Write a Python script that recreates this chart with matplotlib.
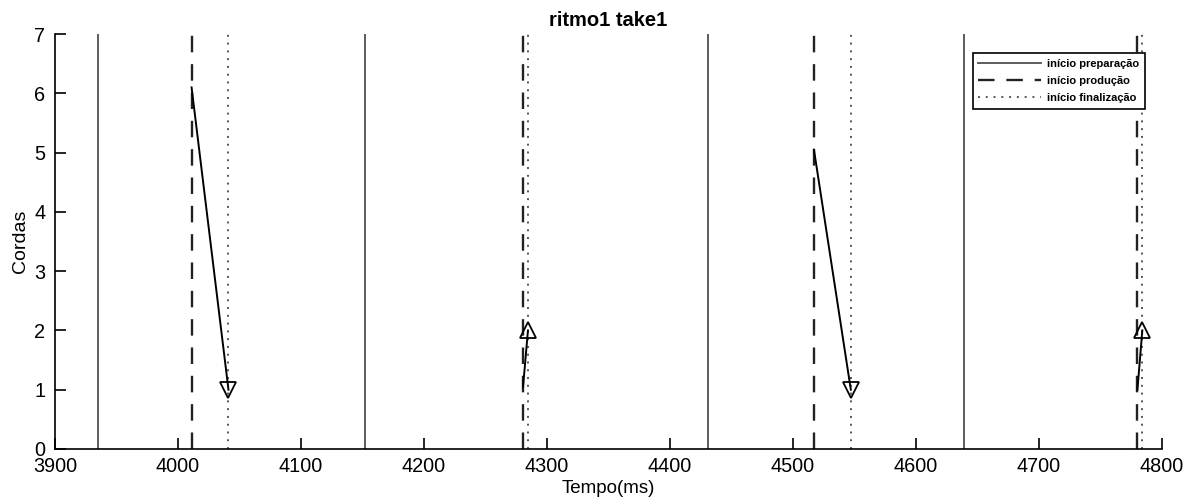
import matplotlib
matplotlib.use("Agg")
import matplotlib.pyplot as plt

plt.rcParams["font.family"] = ["Liberation Sans", "DejaVu Sans"]

# data
prep_start = [3935.0, 4152.0, 4431.0, 4639.0]
prod_start = [4011.0, 4280.5, 4517.0, 4780.0]
final_start = [4041.0, 4284.5, 4547.0, 4784.0]
chord_from = [6.1, 1.05, 5.05, 1.0]
chord_to = [1.0, 2.0, 1.0, 2.0]
xticks = [3900, 4000, 4100, 4200, 4300, 4400, 4500, 4600, 4700, 4800]
yticks = [0, 1, 2, 3, 4, 5, 6, 7]

fig = plt.figure(figsize=(11.89, 4.98), dpi=100)
ax = fig.add_axes([0.0463, 0.0984, 0.9310, 0.8333])
ax.set_xlim(3900, 4800)
ax.set_ylim(0, 7)

for i, x in enumerate(prep_start):
    ax.plot([x, x], [0, 7], color="#505050", lw=1.3, ls="-",
            label="início preparação" if i == 0 else None)
for i, x in enumerate(prod_start):
    ax.plot([x, x], [0, 7], color="#222222", lw=1.7, ls=(0, (7, 5)),
            label="início produção" if i == 0 else None)
for i, x in enumerate(final_start):
    ax.plot([x, x], [0, 7], color="#555555", lw=1.4, ls=(0, (1, 3)),
            label="início finalização" if i == 0 else None)

for x0, x1, y0, y1 in zip(prod_start, final_start, chord_from, chord_to):
    ax.plot([x0, x1], [y0, y1], color="black", lw=1.4)
    m = "v" if y1 < y0 else "^"
    ax.plot([x1], [y1], marker=m, ms=12, mfc="none", mec="black", mew=1.3, ls="none")

ax.set_xticks(xticks)
ax.set_yticks(yticks)
ax.tick_params(direction="in", labelsize=14.3, length=8, width=1.2)
ax.tick_params(axis="y", pad=7)
ax.tick_params(axis="x", pad=6)
for s in ("top", "right"):
    ax.spines[s].set_visible(False)
for s in ("left", "bottom"):
    ax.spines[s].set_linewidth(1.2)
ax.set_title("ritmo1 take1", fontsize=14.5, fontweight="bold", pad=6)
ax.set_xlabel("Tempo(ms)", fontsize=13.5, labelpad=3)
ax.set_ylabel("Cordas", fontsize=14, labelpad=4)

leg = ax.legend(loc="upper right", bbox_to_anchor=(0.9846, 0.954), borderaxespad=0,
                fancybox=False, edgecolor="black", framealpha=1,
                prop={"size": 8, "weight": "bold"},
                handlelength=5.6, borderpad=0.5, labelspacing=0.65, handletextpad=0.6)
leg.get_frame().set_linewidth(1.2)

fig.savefig("out.png", dpi=100)
